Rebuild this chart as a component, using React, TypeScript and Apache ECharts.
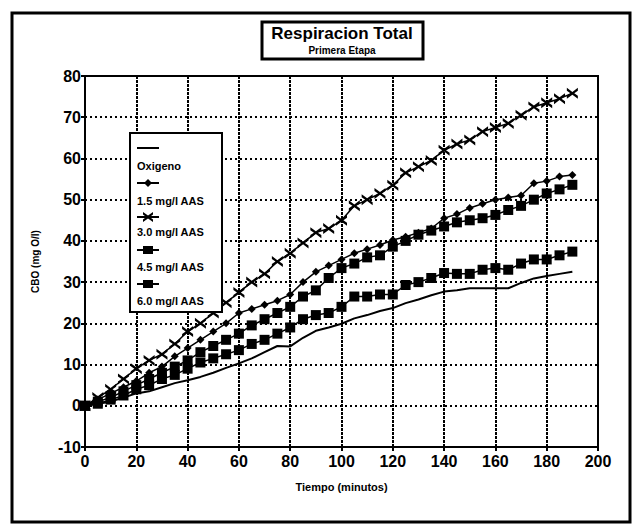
import React, { useEffect, useRef } from "react";
import * as echarts from "echarts";

const times = [0, 5, 10, 15, 20, 25, 30, 35, 40, 45, 50, 55, 60, 65, 70, 75, 80, 85, 90, 95, 100, 105, 110, 115, 120, 125, 130, 135, 140, 145, 150, 155, 160, 165, 170, 175, 180, 185, 190];

const oxigeno = [0, 0.5, 1, 2, 3, 3.5, 4.5, 5.5, 6.2, 7, 8, 9.2, 10.3, 11.5, 13, 14.5, 14.4, 16.5, 18.2, 19, 19.9, 21.2, 22, 23, 23.7, 24.9, 25.8, 26.8, 27.7, 28, 28.5, 28.5, 28.5, 28.5, 29.8, 30.9, 31.5, 32, 32.5];
const aas15 = [0, 1.5, 3, 4.5, 6, 8, 9.5, 12, 14, 16, 18, 20, 22.5, 23.5, 24.5, 25.5, 27, 30, 32.5, 34, 35.5, 37, 38, 39, 40.2, 41, 42, 43, 45.5, 46.5, 48, 49, 50, 50.5, 51, 54, 54.5, 55.6, 56];
const aas30 = [0, 2, 4, 6.5, 9, 11, 12.5, 15, 18, 20, 22.5, 25, 27.5, 30, 32, 35, 37, 39.5, 42, 43, 45, 48.5, 50, 51.5, 53.5, 56.5, 58, 59.5, 62, 63.5, 64.5, 66.5, 67.5, 68.5, 70.5, 72.5, 73.5, 74.5, 75.8];
const aas45 = [0, 1, 2, 3.5, 5, 6.5, 8, 9.5, 11, 13, 14.5, 16, 17.5, 19.5, 21, 22.5, 24, 26.5, 28, 31, 33.4, 34.5, 36, 36.5, 38.6, 40, 41.5, 42.5, 43.5, 44.5, 45, 45.5, 46.3, 47.5, 48.5, 50, 51.5, 52.5, 53.6];
const aas60 = [0, 0.5, 1.5, 2.5, 4, 5, 6.5, 7.5, 9, 10.5, 11.5, 12.5, 13.5, 15, 16, 17.5, 19, 21, 22, 22.5, 24, 26.5, 26.5, 27, 27, 29.3, 30, 31, 32.2, 32, 32, 33, 33.4, 33, 34.5, 35.5, 35.5, 36.5, 37.4];

const seriesNames = ["Oxigeno", "1.5 mg/l AAS", "3.0 mg/l AAS", "4.5 mg/l AAS", "6.0 mg/l AAS"];
const seriesValues = [oxigeno, aas15, aas30, aas45, aas60];

const titleText = "Respiracion Total";
const subtitleText = "Primera Etapa";
const xAxisName = "Tiempo (minutos)";
const yAxisName = "CBO (mg O/l)";

const XMARK = "path://M0,0L4,3L8,0L8,2.2L5.4,4L8,5.8L8,8L4,5L0,8L0,5.8L2.6,4L0,2.2Z";
const symbols = ["none", "diamond", XMARK, "rect", "rect"];
const symbolSizes = [0, 8, 11, 10, 10];

const FONT = "Liberation Sans, Arial, sans-serif";

function legendMarker(idx: number, cx: number, cy: number): any {
  const style = { fill: "#000" };
  if (idx === 1) {
    return { type: "polygon", shape: { points: [[cx, cy - 4], [cx + 4, cy], [cx, cy + 4], [cx - 4, cy]] }, style };
  }
  if (idx === 2) {
    const s = 5;
    return { type: "polygon", shape: { points: [[cx - s, cy - s], [cx, cy - 1.5], [cx + s, cy - s], [cx + s, cy - 2.5], [cx + 1.8, cy], [cx + s, cy + 2.5], [cx + s, cy + s], [cx, cy + 1.5], [cx - s, cy + s], [cx - s, cy + 2.5], [cx - 1.8, cy], [cx - s, cy - 2.5]] }, style };
  }
  if (idx === 3 || idx === 4) {
    return { type: "rect", shape: { x: cx - 5, y: cy - 4, width: 10, height: 8 }, style };
  }
  return null;
}

export default function App() {
  const ref = useRef<HTMLDivElement>(null);
  useEffect(() => {
    if (!ref.current) return;
    const chart = echarts.init(ref.current, null, { renderer: "svg" });

    const legendItems: any[] = [
      { type: "rect", shape: { x: 130, y: 133, width: 92, height: 179 }, style: { fill: "#fff", stroke: "#000", lineWidth: 2 }, z: 10 },
    ];
    const sampleY = [148, 183, 217, 250, 284];
    const labelY = [166, 201, 232, 267, 301];
    seriesNames.forEach((name, i) => {
      legendItems.push({ type: "line", shape: { x1: 137, y1: sampleY[i], x2: 159, y2: sampleY[i] }, style: { stroke: "#000", lineWidth: 2 }, z: 11 });
      const m = legendMarker(i, 148, sampleY[i]);
      if (m) legendItems.push({ ...m, z: 12 });
      legendItems.push({ type: "text", x: 137, y: labelY[i], style: { text: name, font: `bold 11px ${FONT}`, fill: "#000", textVerticalAlign: "middle" }, z: 12 });
    });

    const option: any = {
      animation: false,
      backgroundColor: "#fff",
      grid: { left: 85, right: 38, top: 76, bottom: 82, show: true, borderColor: "#000", borderWidth: 2, backgroundColor: "transparent" },
      xAxis: {
        type: "value",
        min: 0,
        max: 200,
        interval: 20,
        name: xAxisName,
        nameLocation: "middle",
        nameGap: 34,
        nameTextStyle: { fontFamily: FONT, fontWeight: "bold", fontSize: 11, color: "#000" },
        axisLine: { show: true, onZero: false, lineStyle: { color: "#000", width: 2 } },
        axisTick: { show: true, inside: false, length: 4, lineStyle: { color: "#000", width: 2 } },
        axisLabel: { fontFamily: FONT, fontWeight: "bold", fontSize: 16, color: "#000", margin: 6 },
        splitLine: { show: true, lineStyle: { color: "#000", width: 2, type: [3, 1] } },
      },
      yAxis: {
        type: "value",
        min: -10,
        max: 80,
        interval: 10,
        name: yAxisName,
        nameLocation: "middle",
        nameGap: 45,
        nameRotate: 90,
        nameTextStyle: { fontFamily: FONT, fontWeight: "bold", fontSize: 10, color: "#000" },
        axisLine: { show: true, onZero: false, lineStyle: { color: "#000", width: 2 } },
        axisTick: { show: true, inside: false, length: 4, lineStyle: { color: "#000", width: 2 } },
        axisLabel: { fontFamily: FONT, fontWeight: "bold", fontSize: 16, color: "#000", margin: 4 },
        splitLine: { show: true, lineStyle: { color: "#000", width: 2, type: [2, 3] } },
      },
      series: seriesNames.map((name, i) => ({
        name,
        type: "line",
        data: times.map((t, j) => [t, seriesValues[i][j]]),
        symbol: symbols[i],
        symbolSize: symbolSizes[i],
        showSymbol: i !== 0,
        lineStyle: { color: "#000", width: i === 0 ? 2 : 1.5 },
        itemStyle: { color: "#000" },
        z: 3,
      })),
      graphic: [
        { type: "rect", shape: { x: 12, y: 13, width: 618, height: 509 }, style: { fill: "none", stroke: "#000", lineWidth: 3 }, silent: true, z: 1 },
        { type: "rect", shape: { x: 262, y: 22, width: 161, height: 37 }, style: { fill: "#fff", stroke: "#000", lineWidth: 3 }, z: 10 },
        { type: "text", x: 342, y: 33, style: { text: titleText, font: `bold 17px ${FONT}`, fill: "#000", textAlign: "center", textVerticalAlign: "middle" }, z: 11 },
        { type: "text", x: 342, y: 50, style: { text: subtitleText, font: `bold 10px ${FONT}`, fill: "#000", textAlign: "center", textVerticalAlign: "middle" }, z: 11 },
        ...legendItems,
      ],
    };
    chart.setOption(option);
    return () => chart.dispose();
  }, []);
  return <div ref={ref} style={{ position: "fixed", left: 0, top: 0, width: 636, height: 529 }} />;
}
